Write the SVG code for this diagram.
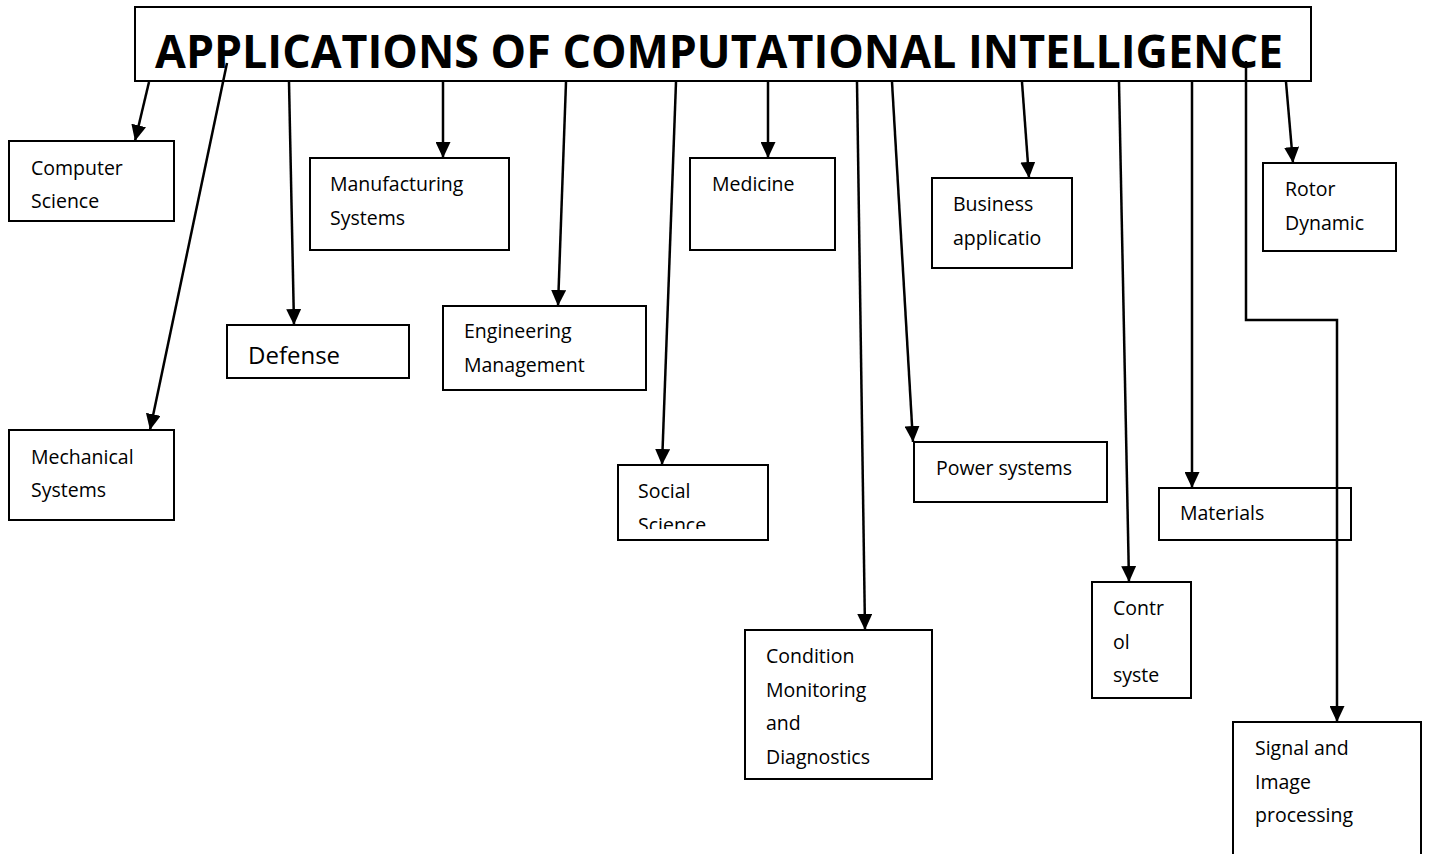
<svg xmlns="http://www.w3.org/2000/svg" width="1429" height="854" viewBox="0 0 1429 854">
<style>
.box{fill:#fff;stroke:#000;stroke-width:2}
.lbl{font-family:"Open Sans","Liberation Sans",sans-serif;font-size:19.5px;fill:#000}
.big{font-size:24px}
.title{font-family:"Open Sans","Liberation Sans",sans-serif;font-size:46px;font-weight:bold;fill:#000}
.con{fill:none;stroke:#000;stroke-width:2.5}
</style>
<defs>
<marker id="ah" markerUnits="userSpaceOnUse" markerWidth="16" markerHeight="15" refX="16" refY="7.5" orient="auto">
<path d="M0,0 L16,7.5 L0,15 z" fill="#000"/>
</marker>
<clipPath id="clipSocial"><rect x="618" y="465" width="150" height="64"/></clipPath>
</defs>
<rect width="1429" height="854" fill="#fff"/>
<g id="title">
<rect class="box" x="135" y="7" width="1176" height="74"/>
<text class="title" x="155" y="68" textLength="1128" lengthAdjust="spacingAndGlyphs">APPLICATIONS OF COMPUTATIONAL INTELLIGENCE</text>
</g>
<g id="computer-science">
<rect class="box" x="9" y="141" width="165" height="80"/>
<text class="lbl" x="31" y="175">Computer</text>
<text class="lbl" x="31" y="208">Science</text>
</g>
<g id="mechanical-systems">
<rect class="box" x="9" y="430" width="165" height="90"/>
<text class="lbl" x="31" y="464">Mechanical</text>
<text class="lbl" x="31" y="497">Systems</text>
</g>
<g id="manufacturing-systems">
<rect class="box" x="310" y="158" width="199" height="92"/>
<text class="lbl" x="330" y="191">Manufacturing</text>
<text class="lbl" x="330" y="225">Systems</text>
</g>
<g id="defense">
<rect class="box" x="227" y="325" width="182" height="53"/>
<text class="lbl big" x="248" y="364">Defense</text>
</g>
<g id="engineering-management">
<rect class="box" x="443" y="306" width="203" height="84"/>
<text class="lbl" x="464" y="338">Engineering</text>
<text class="lbl" x="464" y="372">Management</text>
</g>
<g id="medicine">
<rect class="box" x="690" y="158" width="145" height="92"/>
<text class="lbl" x="712" y="191">Medicine</text>
</g>
<g id="social-science">
<rect class="box" x="618" y="465" width="150" height="75"/>
<g clip-path="url(#clipSocial)">
<text class="lbl" x="638" y="498">Social</text>
<text class="lbl" x="638" y="532">Science</text>
</g>
</g>
<g id="condition-monitoring">
<rect class="box" x="745" y="630" width="187" height="149"/>
<text class="lbl" x="766" y="663">Condition</text>
<text class="lbl" x="766" y="697">Monitoring</text>
<text class="lbl" x="766" y="730">and</text>
<text class="lbl" x="766" y="764">Diagnostics</text>
</g>
<g id="power-systems">
<rect class="box" x="914" y="442" width="193" height="60"/>
<text class="lbl" x="936" y="475">Power systems</text>
</g>
<g id="business-applications">
<rect class="box" x="932" y="178" width="140" height="90"/>
<text class="lbl" x="953" y="211">Business</text>
<text class="lbl" x="953" y="245">applicatio</text>
</g>
<g id="rotor-dynamic">
<rect class="box" x="1263" y="163" width="133" height="88"/>
<text class="lbl" x="1285" y="196">Rotor</text>
<text class="lbl" x="1285" y="230">Dynamic</text>
</g>
<g id="control-systems">
<rect class="box" x="1092" y="582" width="99" height="116"/>
<text class="lbl" x="1113" y="615">Contr</text>
<text class="lbl" x="1113" y="649">ol</text>
<text class="lbl" x="1113" y="682">syste</text>
</g>
<g id="materials">
<rect class="box" x="1159" y="488" width="192" height="52"/>
<text class="lbl" x="1180" y="520">Materials</text>
</g>
<g id="signal-image">
<rect class="box" x="1233" y="722" width="188" height="145"/>
<text class="lbl" x="1255" y="755">Signal and</text>
<text class="lbl" x="1255" y="789">Image</text>
<text class="lbl" x="1255" y="822">processing</text>
</g>
<g id="connectors">
<line class="con" x1="149" y1="82" x2="135" y2="141" marker-end="url(#ah)"/>
<line class="con" x1="227" y1="63" x2="150" y2="430" marker-end="url(#ah)"/>
<line class="con" x1="289" y1="82" x2="294" y2="325" marker-end="url(#ah)"/>
<line class="con" x1="443" y1="82" x2="443" y2="158" marker-end="url(#ah)"/>
<line class="con" x1="566" y1="82" x2="558" y2="306" marker-end="url(#ah)"/>
<line class="con" x1="676" y1="82" x2="662" y2="465" marker-end="url(#ah)"/>
<line class="con" x1="768" y1="82" x2="768" y2="158" marker-end="url(#ah)"/>
<line class="con" x1="857" y1="82" x2="865" y2="630" marker-end="url(#ah)"/>
<line class="con" x1="892" y1="82" x2="913" y2="442" marker-end="url(#ah)"/>
<line class="con" x1="1022" y1="82" x2="1029" y2="178" marker-end="url(#ah)"/>
<line class="con" x1="1119" y1="82" x2="1129" y2="582" marker-end="url(#ah)"/>
<line class="con" x1="1192" y1="82" x2="1192" y2="488" marker-end="url(#ah)"/>
<line class="con" x1="1286" y1="82" x2="1293" y2="163" marker-end="url(#ah)"/>
<polyline class="con" points="1246,61 1246,320 1337,320 1337,722" marker-end="url(#ah)"/>
</g>
</svg>
